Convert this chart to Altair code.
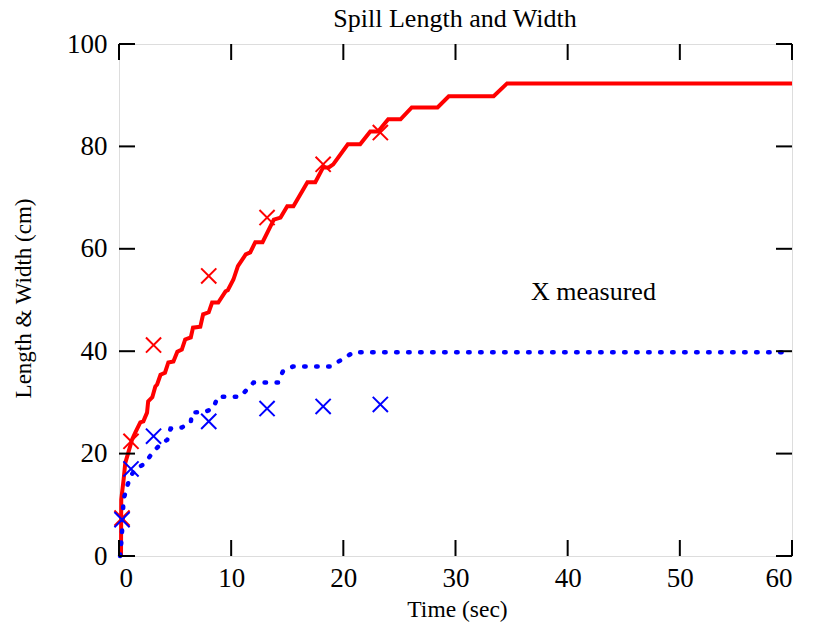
import altair as alt
import pandas as pd

# Length (red solid line)
red_t = [0.18, 0.2, 0.41, 0.56, 0.83, 1.16, 1.45, 1.9, 2.17, 2.5, 2.6, 2.97, 3.24, 3.4, 3.7, 4.1, 4.4,
         4.85, 5.2, 5.6, 5.9, 6.4, 6.6, 7.25, 7.5, 8.0, 8.3, 8.85, 9.5, 9.7, 10.2, 10.6, 11.3, 11.7,
         12.15, 12.8, 13.8, 14.4, 15.0, 15.55, 16.8, 17.5, 18.2, 18.7, 19.1, 20.4, 21.5, 22.4, 23.1,
         24.0, 25.1, 26.1, 28.4, 29.4, 33.4, 34.6, 60.0]
red_len = [0.0, 11.0, 14.9, 18.2, 20.2, 22.7, 24.1, 26.1, 26.3, 28.0, 30.2, 31.0, 33.1, 33.5, 35.4, 35.8, 37.8,
           38.0, 39.9, 40.3, 42.3, 42.7, 44.6, 44.8, 47.2, 47.6, 49.5, 49.5, 51.7, 51.9, 54.0, 56.6, 58.9, 59.3,
           61.3, 61.3, 65.7, 66.1, 68.3, 68.3, 73.0, 73.0, 75.9, 75.9, 76.5, 80.4, 80.4, 82.9, 82.9,
           85.3, 85.3, 87.6, 87.6, 89.8, 89.8, 92.3, 92.3]

# Width (blue dotted line)
blue_t = [0.1, 0.2, 0.3, 0.4, 0.7, 1.0, 1.45, 2.1, 2.6, 3.06, 3.7, 4.3, 4.6, 5.6, 6.4, 6.5, 7.7, 8.4,
          8.8, 10.8, 11.4, 12.0, 14.2, 14.6, 15.5, 18.8, 19.9, 20.9, 60.0]
blue_wid = [0.0, 2.6, 5.7, 11.0, 13.4, 15.5, 16.9, 17.8, 19.0, 20.4, 21.8, 22.7, 24.9, 25.1, 26.1, 28.0, 28.2, 28.8,
            31.1, 31.1, 32.5, 33.9, 33.9, 36.0, 37.0, 37.0, 38.4, 39.8, 39.8]

# Measured points
meas_t = [0.27, 1.07, 3.08, 8.0, 13.2, 18.2, 23.3]
meas_len = [7.4, 22.4, 41.2, 54.7, 66.1, 76.5, 82.7]
meas_wid = [7.1, 17.0, 23.4, 26.3, 28.8, 29.2, 29.6]

x_ticks = [0, 10, 20, 30, 40, 50, 60]
y_ticks = [0, 20, 40, 60, 80, 100]

note_x = [42.3]
note_y = [50.0]
note_text = ["X measured"]
title_text = ["Spill Length and Width"]

FONT = "Liberation Serif"
W, H = 673, 512
TL = 16

red_df = pd.DataFrame({"t": red_t, "v": red_len})
blue_df = pd.DataFrame({"t": blue_t, "v": blue_wid})
ml_df = pd.DataFrame({"t": meas_t, "v": meas_len})
mw_df = pd.DataFrame({"t": meas_t, "v": meas_wid})
xt_df = pd.DataFrame({"t": x_ticks})
yt_df = pd.DataFrame({"v": y_ticks})
note_df = pd.DataFrame({"t": note_x, "v": note_y, "s": note_text})
title_df = pd.DataFrame({"s": title_text})

xs = alt.Scale(domain=[0, 60], nice=False, zero=False)
ys = alt.Scale(domain=[0, 100], nice=False, zero=False)

x_axis = alt.Axis(values=x_ticks, ticks=False, tickSize=0, domain=False, grid=False,
                  labelFont=FONT, labelFontSize=27, labelColor="black",
                  labelBaseline="alphabetic", labelPadding=30,
                  title="Time (sec)", titleFont=FONT, titleFontSize=23.5, titleFontWeight="normal",
                  titleColor="black", titleX=338, titleY=60, titleBaseline="alphabetic",
                  titleAlign="center")
y_axis = alt.Axis(values=y_ticks, ticks=False, tickSize=0, domain=False, grid=False,
                  labelFont=FONT, labelFontSize=27, labelColor="black", labelPadding=12,
                  title="Length & Width (cm)", titleFont=FONT, titleFontSize=23,
                  titleFontWeight="normal", titleColor="black", titleX=-89, titleY=254,
                  titleBaseline="alphabetic", titleAlign="center", titleAngle=270)

red_line = alt.Chart(red_df).mark_line(color="#ff0000", strokeWidth=4, strokeJoin="miter").encode(
    x=alt.X("t:Q", scale=xs, axis=x_axis),
    y=alt.Y("v:Q", scale=ys, axis=y_axis),
    order="t:Q",
)
blue_line = alt.Chart(blue_df).mark_line(color="#0000ff", strokeWidth=4.5, strokeCap="round",
                                         strokeDash=[1.5, 10.5]).encode(
    x=alt.X("t:Q", scale=xs), y=alt.Y("v:Q", scale=ys), order="t:Q")

XPATH = "M-1,-1L1,1M-1,1L1,-1"
red_pts = alt.Chart(ml_df).mark_point(shape=XPATH, filled=False, color="#ff0000",
                                      strokeWidth=2, size=230, opacity=1).encode(
    x=alt.X("t:Q", scale=xs), y=alt.Y("v:Q", scale=ys))
blue_pts = alt.Chart(mw_df).mark_point(shape=XPATH, filled=False, color="#0000ff",
                                       strokeWidth=2, size=230, opacity=1).encode(
    x=alt.X("t:Q", scale=xs), y=alt.Y("v:Q", scale=ys))

note = alt.Chart(note_df).mark_text(font=FONT, fontSize=26, color="black", align="center",
                                    baseline="alphabetic").encode(
    x=alt.X("t:Q", scale=xs), y=alt.Y("v:Q", scale=ys), text="s:N")

title = alt.Chart(title_df).mark_text(font=FONT, fontSize=26, color="black", align="center",
                                      baseline="alphabetic").encode(
    x=alt.value(W / 2 - 0.5), y=alt.value(-17), text="s:N")

tick_style = dict(color="black", strokeWidth=2)
bot_ticks = alt.Chart(xt_df).mark_rule(**tick_style).encode(
    x=alt.X("t:Q", scale=xs), y=alt.value(H), y2=alt.value(H - TL))
top_ticks = alt.Chart(xt_df).mark_rule(**tick_style).encode(
    x=alt.X("t:Q", scale=xs), y=alt.value(0), y2=alt.value(TL))
left_ticks = alt.Chart(yt_df).mark_rule(**tick_style).encode(
    y=alt.Y("v:Q", scale=ys), x=alt.value(0), x2=alt.value(TL))
right_ticks = alt.Chart(yt_df).mark_rule(**tick_style).encode(
    y=alt.Y("v:Q", scale=ys), x=alt.value(W - TL), x2=alt.value(W))

chart = alt.layer(
    red_line, blue_line, red_pts, blue_pts, note, title,
    bot_ticks, top_ticks, left_ticks, right_ticks,
).properties(
    width=W, height=H,
    autosize=alt.AutoSizeParams(type="none"),
    padding={"left": 119, "top": 44, "right": 21, "bottom": 77},
).configure_view(stroke="black", strokeWidth=2).configure(background="white")

chart.save("out.html", embed_options={"renderer": "svg", "actions": False})
